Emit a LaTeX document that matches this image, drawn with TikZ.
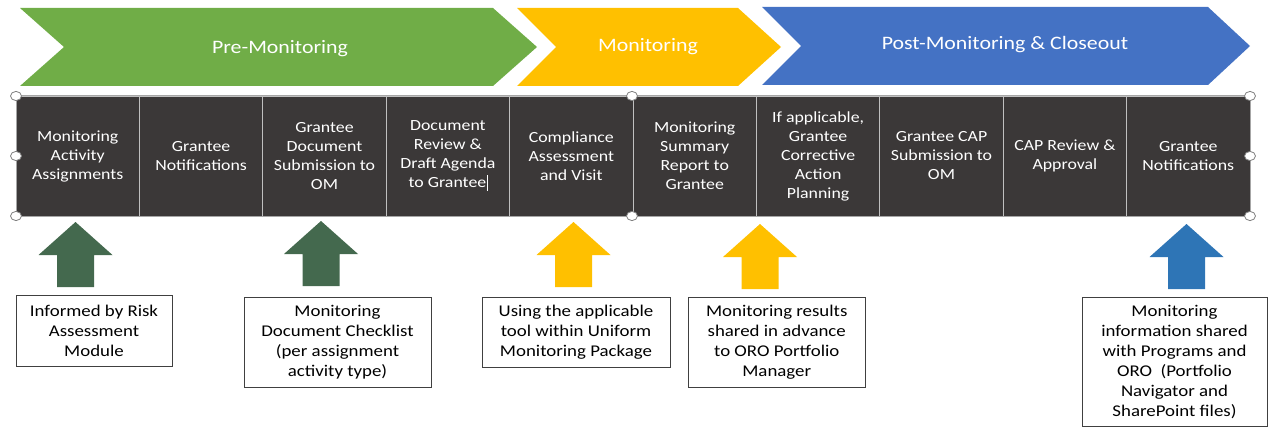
\documentclass[tikz,border=0pt]{standalone}
\usepackage{fontspec}
\setmainfont{Carlito}[FakeStretch=1.15]
\definecolor{cgreen}{HTML}{70AD47}
\definecolor{cyellow}{HTML}{FFC000}
\definecolor{cblue}{HTML}{4472C4}
\definecolor{adgreen}{HTML}{44694E}
\definecolor{ablue}{HTML}{2E75B6}
\definecolor{cellfill}{HTML}{3B3838}
\definecolor{celline}{HTML}{BFBFBF}
\definecolor{tabline}{HTML}{A6A6A6}
\newcommand\uparrowshape[3]{\fill[#3] (#1,#2) -- ++(37,33) -- ++(-18.5,0) -- ++(0,32) -- ++(-37,0) -- ++(0,-32) -- ++(-18.5,0) -- cycle;}
\begin{document}
\begin{tikzpicture}[x=1pt,y=-1pt,
  cell/.style={fill=cellfill,draw=celline,line width=0.8pt,minimum width=123.4pt,minimum height=120pt,inner sep=0pt,align=center,text=white,font=\fontsize{15.5}{19}\selectfont},
  head/.style={text=white,font=\fontsize{19}{22}\selectfont},
  infobox/.style={draw=black!75,line width=0.8pt,fill=white,align=center,inner sep=0pt,font=\fontsize{16.4}{20}\selectfont},
  handle/.style={draw=gray,fill=white,line width=0.8pt}]
\useasboundingbox (0,0) rectangle (1270,428);
% chevrons
\fill[cgreen] (20,8) -- (493,8) -- (537,47) -- (493,86) -- (20,86) -- (64,47) -- cycle;
\fill[cyellow] (517,8) -- (738,8) -- (781,47) -- (738,86) -- (517,86) -- (556,47) -- cycle;
\fill[cblue] (762,7) -- (1208,7) -- (1250,46) -- (1208,85) -- (762,85) -- (801,46) -- cycle;
\node[head] (h1) at (280,49) {Pre-Monitoring};
\node[head] (h2) at (648,47) {Monitoring};
\node[head] (h3) at (1005,45) {Post-Monitoring \& Closeout};
% table cells
\node[cell] (c1) at (77.7,156) {Monitoring\\Activity\\Assignments};
\node[cell] (c2) at (201.1,156) {Grantee\\Notifications};
\node[cell] (c3) at (324.5,156) {Grantee\\Document\\Submission to\\OM};
\node[cell] (c4) at (447.9,156) {Document\\Review \&\\Draft Agenda\\to Grantee\kern0.3pt\rule[-3pt]{0.6pt}{16pt}};
\node[cell] (c5) at (571.3,156) {Compliance\\Assessment\\and Visit};
\node[cell] (c6) at (694.7,156) {Monitoring\\Summary\\Report to\\Grantee};
\node[cell] (c7) at (818.1,156) {If applicable,\\Grantee\\Corrective\\Action\\Planning};
\node[cell] (c8) at (941.5,156) {Grantee CAP\\Submission to\\OM};
\node[cell] (c9) at (1064.9,156) {CAP Review \&\\Approval};
\node[cell] (c10) at (1188.3,156) {Grantee\\Notifications};
\draw[tabline,line width=1pt] (16,96) rectangle (1250,216);
% handles
\foreach \p/\q in {16/96,16/156,16/216,632/96,632/216,1250/96,1250/156,1250/216}
  \draw[handle] (\p,\q) ellipse [x radius=5.5, y radius=4.6];
% block arrows
\uparrowshape{75.5}{222}{adgreen}
\uparrowshape{321}{221}{adgreen}
\uparrowshape{573.5}{222}{cyellow}
\uparrowshape{760}{224}{cyellow}
\uparrowshape{1186.5}{224}{ablue}
% info boxes
\node[infobox,minimum width=156pt,minimum height=71pt] (b1) at (94,330.5) {Informed by Risk\\Assessment\\Module};
\node[infobox,minimum width=187pt,minimum height=90pt] (b2) at (337.5,342) {Monitoring\\Document Checklist\\(per assignment\\activity type)};
\node[infobox,minimum width=188pt,minimum height=70pt] (b3) at (576,332) {Using the applicable\\tool within Uniform\\Monitoring Package};
\node[infobox,minimum width=177.5pt,minimum height=90pt] (b4) at (776.75,342) {Monitoring results\\shared in advance\\to ORO Portfolio\\Manager};
\node[infobox,minimum width=185pt,minimum height=129pt] (b5) at (1174.5,362) {Monitoring\\information shared\\with Programs and\\ORO\ \ (Portfolio\\Navigator and\\SharePoint files)};
\end{tikzpicture}
\end{document}
